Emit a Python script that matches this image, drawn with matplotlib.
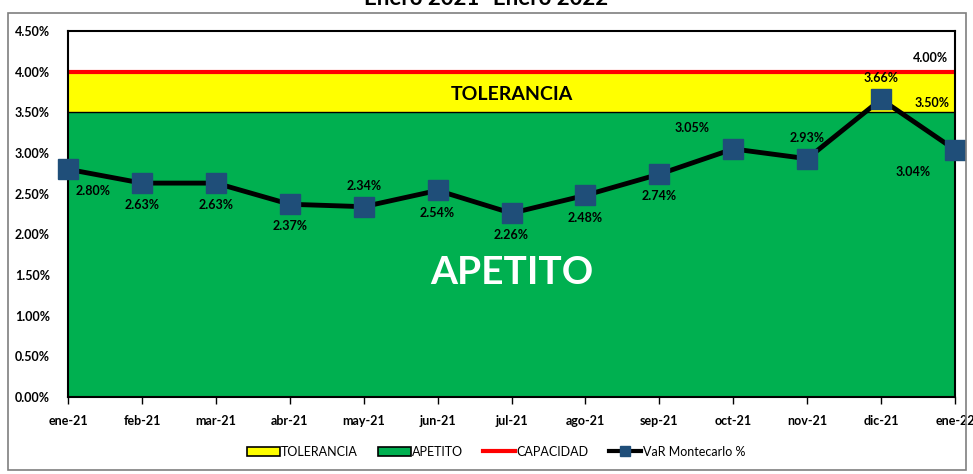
import numpy as np
import matplotlib.pyplot as plt
from matplotlib.patches import Rectangle
from matplotlib.lines import Line2D

# data
meses = ['ene-21', 'feb-21', 'mar-21', 'abr-21', 'may-21', 'jun-21', 'jul-21',
         'ago-21', 'sep-21', 'oct-21', 'nov-21', 'dic-21', 'ene-22']
var_mc = [2.80, 2.63, 2.63, 2.37, 2.34, 2.54, 2.26, 2.48, 2.74, 3.05, 2.93, 3.66, 3.04]
apetito = [3.50] * 13
capacidad = [4.00] * 13
# label offsets (points) for each data label
lbl_off = [(18, -16), (0, -16), (0, -16), (0, -16), (0, 15), (0, -16), (0, -16),
           (0, -16), (0, -16), (-30, 15), (0, 15), (0, 15), (-30, -16)]

plt.rcParams['font.family'] = ['Lato', 'DejaVu Sans']

fig = plt.figure(figsize=(9.73, 4.74), dpi=100)
fig.patches.append(Rectangle((0.008, 0.008), 0.985, 0.965, transform=fig.transFigure,
                             fill=False, edgecolor='#7f7f7f', linewidth=1.2))
fig.text(0.5, 1.003, 'Enero 2021- Enero 2022', ha='center', va='center',
         fontsize=16, fontweight='bold')

ax = fig.add_axes([0.0699, 0.1624, 0.9116, 0.7722])
x = np.arange(len(meses))

ax.fill_between(x, 0, apetito, color='#00B050', lw=0)
ax.fill_between(x, apetito, capacidad, color='#FFFF00', lw=0)
ax.plot(x, apetito, color='black', lw=1.0)
ax.plot(x, capacidad, color='#FF0000', lw=3)
ax.plot(x, var_mc, color='black', lw=3.5, marker='s', markersize=14,
        markerfacecolor='#1F4E79', markeredgecolor='#1F4E79', zorder=5, clip_on=False)

for xi, v, off in zip(x, var_mc, lbl_off):
    ax.annotate(f'{v:.2f}%', (xi, v), xytext=off, textcoords='offset points',
                ha='center', va='center', fontsize=9, fontweight='bold', zorder=6)

ax.text(12 - 0.1, 4.17, '4.00%', ha='right', va='center', fontsize=9, fontweight='bold')
ax.text(12 - 0.07, 3.62, '3.50%', ha='right', va='center', fontsize=9, fontweight='bold')
ax.text(6, 3.72, 'TOLERANCIA', ha='center', va='center', fontsize=14, fontweight='bold')
ax.text(6, 1.53, 'APETITO', ha='center', va='center', fontsize=28, fontweight='bold',
        color='white')

ax.set_xlim(0, 12)
ax.set_ylim(0, 4.5)
ax.set_xticks(x)
ax.set_xticklabels(meses, fontsize=9, fontweight='bold')
ax.set_yticks(np.arange(0, 4.51, 0.5))
ax.set_yticklabels([f'{t:.2f}%' for t in np.arange(0, 4.51, 0.5)], fontsize=9,
                   fontweight='bold')
ax.tick_params(axis='x', length=5, width=1, pad=8)
ax.tick_params(axis='y', length=0, pad=13)
for s in ax.spines.values():
    s.set_linewidth(1.5)

handles = [Rectangle((0, 0), 1, 1, facecolor='#FFFF00', edgecolor='black', lw=1.2),
           Rectangle((0, 0), 1, 1, facecolor='#00B050', edgecolor='black', lw=1.2),
           Line2D([], [], color='#FF0000', lw=3),
           Line2D([], [], color='black', lw=3, marker='s', markersize=7,
                  markerfacecolor='#1F4E79', markeredgecolor='#1F4E79')]
fig.legend(handles, ['TOLERANCIA', 'APETITO', 'CAPACIDAD', 'VaR Montecarlo %'],
           loc='center', bbox_to_anchor=(0.51, 0.047), ncol=4, frameon=False,
           fontsize=9, handlelength=2.6, handletextpad=0.1, columnspacing=1.6)

fig.savefig('out.png', dpi=100)
